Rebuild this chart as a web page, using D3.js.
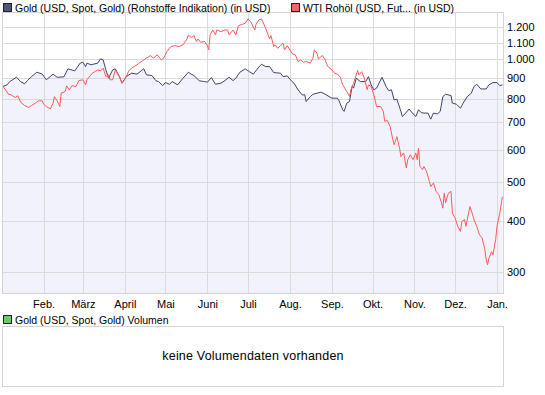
<!DOCTYPE html>
<html>
<head>
<meta charset="utf-8">
<script src="https://cdn.jsdelivr.net/npm/d3@7"></script>
<style>
    body { margin: 0; background: #fff; }
    svg { display: block; font-family: "Liberation Sans", Arial, sans-serif; }
</style>
</head>
<body>
<svg id="base" width="545" height="395"></svg>
<script>
// data (Tage seit 1. Jan 2008, Kurs in USD; WTI auf Gold-Startwert normiert)

const goldDays = [1, 4, 6, 11, 14, 17, 19, 22, 26, 30, 33, 38, 41, 46, 49, 54, 58, 60, 62, 63,
    66, 71, 73, 75, 77, 79, 82, 84, 87, 89, 92, 96, 100, 105, 107, 111, 114, 116, 119, 121,
    124, 126, 130, 134, 138, 140, 142, 146, 150, 152, 155, 158, 162, 165, 168, 171, 173, 176, 180, 183,
    186, 187, 190, 192, 195, 198, 201, 206, 208, 211, 214, 216, 219, 222, 224, 225, 228, 230, 233, 236,
    239, 244, 248, 249, 252, 253, 255, 257, 259, 260, 262, 265, 269, 271, 273, 275, 277, 281, 284, 286,
    288, 290, 292, 295, 296, 298, 301, 304, 306, 308, 310, 312, 315, 317, 319, 322, 324, 326, 328, 332,
    333, 336, 339, 341, 344, 347, 349, 351, 354, 358, 360, 363, 366, 368, 370];

const goldValues = [858, 866, 882, 904, 882, 871, 887, 907, 930, 920, 891, 920, 904, 906, 948, 937, 979, 984, 960, 979,
    970, 979, 1003, 997, 942, 899, 942, 948, 907, 874, 907, 925, 920, 948, 916, 913, 886, 882, 862, 877,
    869, 882, 866, 899, 930, 920, 913, 886, 882, 879, 902, 869, 874, 887, 904, 887, 899, 930, 948, 933,
    920, 930, 957, 973, 960, 960, 928, 925, 907, 911, 886, 874, 842, 818, 818, 788, 810, 821, 826, 831,
    821, 803, 803, 795, 752, 745, 781, 788, 861, 850, 899, 882, 882, 907, 866, 842, 850, 904, 858, 838,
    842, 795, 799, 745, 724, 735, 755, 735, 724, 752, 740, 738, 738, 713, 738, 735, 745, 810, 821, 815,
    781, 776, 759, 781, 810, 826, 858, 869, 846, 846, 866, 877, 877, 862, 866];

const wtiDays = [1, 4, 5, 7, 10, 12, 14, 17, 20, 22, 25, 27, 30, 31, 33, 36, 38, 39, 41, 43,
    44, 47, 48, 50, 52, 55, 57, 60, 62, 63, 67, 71, 73, 75, 77, 79, 80, 82, 84, 87,
    89, 92, 94, 96, 100, 104, 107, 110, 112, 115, 118, 120, 122, 124, 125, 128, 131, 134, 137, 138,
    140, 142, 144, 145, 147, 150, 152, 153, 154, 156, 158, 159, 162, 165, 167, 168, 171, 173, 175, 178,
    180, 182, 184, 187, 188, 190, 192, 194, 196, 198, 199, 201, 202, 204, 206, 208, 209, 211, 213, 215,
    217, 219, 221, 223, 225, 228, 230, 231, 233, 234, 237, 239, 241, 244, 246, 248, 250, 252, 255, 257,
    258, 260, 262, 263, 264, 266, 268, 270, 271, 273, 275, 277, 280, 282, 283, 285, 287, 289, 290, 292,
    294, 295, 297, 299, 300, 302, 304, 306, 307, 308, 309, 311, 312, 314, 316, 317, 319, 321, 323, 325,
    326, 327, 328, 330, 332, 333, 335, 337, 339, 340, 342, 343, 346, 348, 349, 351, 353, 355, 357, 358,
    359, 360, 362, 363, 365, 366, 368, 370];

const wtiValues = [858, 831, 821, 818, 806, 814, 785, 770, 762, 770, 781, 791, 791, 776, 766, 756, 781, 810, 791, 766,
    826, 834, 861, 842, 862, 858, 887, 891, 866, 891, 925, 942, 937, 952, 907, 916, 891, 891, 942, 907,
    874, 907, 937, 952, 970, 992, 1007, 1022, 1007, 1026, 997, 1010, 1045, 1065, 1075, 1081, 1075, 1086, 1123, 1149,
    1131, 1144, 1106, 1123, 1102, 1106, 1081, 1055, 1149, 1181, 1149, 1181, 1170, 1181, 1181, 1149, 1181, 1149, 1211, 1220,
    1227, 1257, 1238, 1181, 1220, 1250, 1257, 1215, 1170, 1123, 1144, 1075, 1086, 1065, 1081, 1096, 1055, 1081, 1055, 1030,
    1026, 988, 997, 984, 988, 979, 1007, 1055, 1036, 1003, 1022, 997, 960, 942, 925, 920, 907, 866, 834, 810,
    842, 874, 916, 939, 916, 933, 899, 842, 866, 858, 818, 766, 766, 745, 704, 708, 684, 635, 617, 646,
    605, 577, 589, 541, 567, 583, 567, 589, 567, 605, 546, 536, 546, 530, 501, 487, 497, 474, 465, 444,
    431, 469, 444, 469, 474, 419, 408, 389, 378, 400, 404, 389, 435, 415, 404, 389, 371, 364, 341, 322,
    313, 325, 337, 331, 361, 389, 419, 460];

const yTicks = [300, 400, 500, 600, 700, 800, 900, 1000, 1100, 1200];
const monthLabels = ["Feb.", "März", "April", "Mai", "Juni", "Juli", "Aug.", "Sep.", "Okt.", "Nov.", "Dez.", "Jan."];

const goldName = "Gold (USD, Spot, Gold) (Rohstoffe Indikation) (in USD)";
const wtiName = "WTI Rohöl (USD, Fut... (in USD)";
const volName = "Gold (USD, Spot, Gold) Volumen";
const volEmpty = "keine Volumendaten vorhanden";

(function () {
    const base = d3.select("#base");

    const left = 3, right = 503, top = 13, bottom = 293.5;
    const start = new Date(2008, 0, 1);
    const toDate = (n) => d3.timeDay.offset(start, n);

    const gold = goldDays.map((d, i) => ({ date: toDate(d), value: goldValues[i] }));
    const wti = wtiDays.map((d, i) => ({ date: toDate(d), value: wtiValues[i] }));

    // scales

    const x = d3.scaleTime()
        .domain([new Date(2008, 0, 2), new Date(2009, 0, 5, 10)])
        .range([left, right]);

    const y = d3.scaleLog()
        .domain([266, 1300])
        .range([bottom, top]);

    const de = d3.formatLocale({ decimal: ",", thousands: ".", grouping: [3], currency: ["", " €"] });
    const fmt = de.format(",d");

    const months = d3.timeMonth.range(new Date(2008, 1, 1), new Date(2009, 0, 2));

    base.append("defs").append("clipPath").attr("id", "clip")
        .append("rect")
        .attr("x", left).attr("y", top)
        .attr("width", right - left).attr("height", bottom - top);

    // area under gold

    const area = d3.area()
        .x((d) => x(d.date))
        .y0(bottom)
        .y1((d) => y(d.value));

    base.append("path")
        .datum(gold)
        .attr("clip-path", "url(#clip)")
        .attr("fill", "#f2f2fc")
        .attr("d", area);

    // grid

    const grid = base.append("g")
        .attr("stroke", "#dadada")
        .attr("stroke-width", 1)
        .attr("shape-rendering", "crispEdges");

    grid.selectAll(".h")
        .data(yTicks)
        .enter()
        .append("line")
        .attr("x1", left).attr("x2", right)
        .attr("y1", (d) => Math.round(y(d)) + 0.5)
        .attr("y2", (d) => Math.round(y(d)) + 0.5);

    grid.selectAll(".v")
        .data(months)
        .enter()
        .append("line")
        .attr("x1", (d) => Math.round(x(d)) + 0.5)
        .attr("x2", (d) => Math.round(x(d)) + 0.5)
        .attr("y1", top).attr("y2", bottom);

    base.append("rect")
        .attr("x", left - 0.5).attr("y", top - 0.5)
        .attr("width", right - left + 1).attr("height", bottom - top + 0.5)
        .attr("fill", "none")
        .attr("stroke", "#d4d4d4");

    // lines

    const line = d3.line()
        .x((d) => x(d.date))
        .y((d) => y(d.value));

    base.append("path")
        .datum(gold)
        .attr("clip-path", "url(#clip)")
        .attr("fill", "none")
        .attr("stroke", "#3e4566")
        .attr("stroke-width", 1)
        .attr("d", line);

    base.append("path")
        .datum(wti)
        .attr("clip-path", "url(#clip)")
        .attr("fill", "none")
        .attr("stroke", "#ff5a5a")
        .attr("stroke-width", 1)
        .attr("d", line);

    // axes

    const yAxis = base.append("g")
        .attr("transform", `translate(${right},0)`)
        .call(d3.axisRight(y).tickValues(yTicks).tickFormat(fmt).tickSize(0).tickPadding(4));

    const xAxis = base.append("g")
        .attr("transform", `translate(0,${bottom})`)
        .call(d3.axisBottom(x).tickValues(months).tickFormat((d, i) => monthLabels[i]).tickSize(0).tickPadding(7));

    [xAxis, yAxis].forEach((a) => {
        a.select(".domain").remove();
        a.selectAll("text")
            .attr("fill", "#000")
            .style("font-size", "11px")
            .style("font-family", "'Liberation Sans', Arial, sans-serif");
    });

    // legend

    const legend = [
        { name: goldName, color: "#4e5779", x: 3, y: 3 },
        { name: wtiName, color: "#f46464", x: 291, y: 3 },
        { name: volName, color: "#66cc66", x: 3, y: 315 }
    ];

    const item = base.selectAll(".legend-item")
        .data(legend)
        .enter()
        .append("g")
        .attr("class", "legend-item")
        .attr("transform", (d) => `translate(${d.x},${d.y})`);

    item.append("rect")
        .attr("x", 0.5).attr("y", 0.5)
        .attr("width", 8).attr("height", 8)
        .attr("fill", (d) => d.color)
        .attr("stroke", "#222");

    item.append("text")
        .attr("x", 12)
        .attr("y", 8.5)
        .style("font-size", "10.5px")
        .text((d) => d.name);

    // volume panel

    base.append("rect")
        .attr("x", left - 0.5).attr("y", 326.5)
        .attr("width", right - left + 1).attr("height", 60)
        .attr("fill", "#fff")
        .attr("stroke", "#d4d4d4");

    base.append("text")
        .attr("x", (left + right) / 2)
        .attr("y", 360)
        .attr("text-anchor", "middle")
        .style("font-size", "12.5px")
        .style("letter-spacing", "0.2px")
        .text(volEmpty);
})();
</script>
</body>
</html>
